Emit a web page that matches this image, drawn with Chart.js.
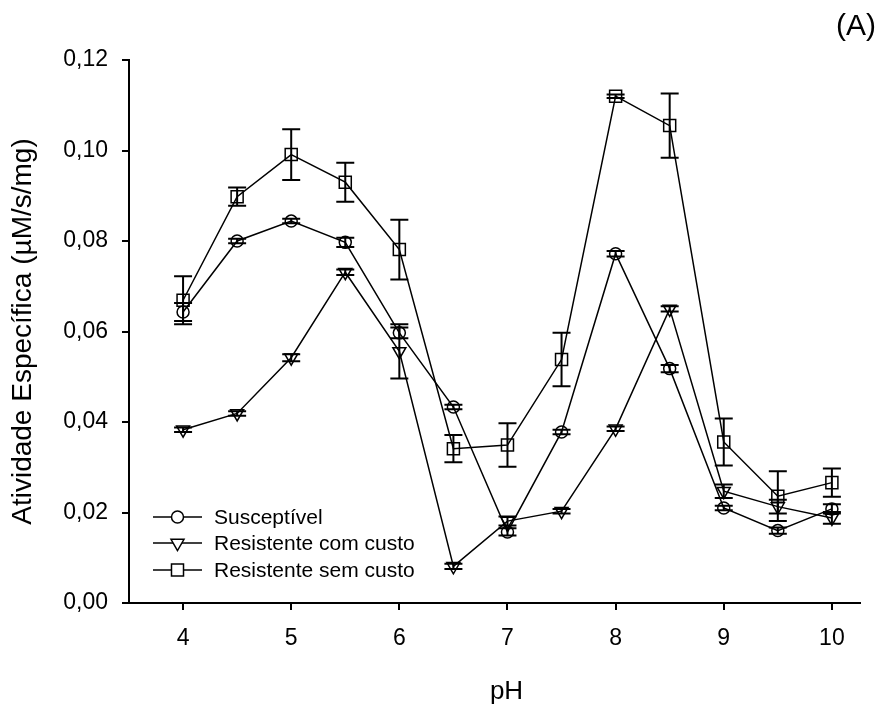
<!DOCTYPE html>
<html>
<head>
<meta charset="utf-8">
<script src="https://cdn.jsdelivr.net/npm/chart.js@4/dist/chart.umd.min.js"></script>
<style>
  html, body { margin: 0; padding: 0; background: #fff; }
  #wrap { width: 884px; height: 709px; }
</style>
</head>
<body>
<div id="wrap"><canvas id="c" width="884" height="709"></canvas></div>
<script>
// ---- data ----
const phValues = [4, 4.5, 5, 5.5, 6, 6.5, 7, 7.5, 8, 8.5, 9, 9.5, 10];
const xTickValues = [4, 5, 6, 7, 8, 9, 10];
const yTickValues = [0, 0.02, 0.04, 0.06, 0.08, 0.10, 0.12];

const susceptivel    = [0.0643, 0.0800, 0.0844, 0.0797, 0.0597, 0.0433, 0.0157, 0.0378, 0.0772, 0.0518, 0.0210, 0.0160, 0.0208];
const susceptivelErr = [0.0020, 0.0005, 0.0005, 0.0010, 0.0012, 0.0005, 0.0008, 0.0005, 0.0006, 0.0008, 0.0005, 0.0007, 0.0010];

const comCusto    = [0.0383, 0.0419, 0.0542, 0.0731, 0.0556, 0.0081, 0.0181, 0.0203, 0.0385, 0.0650, 0.0247, 0.0213, 0.0188];
const comCustoErr = [0.0005, 0.0005, 0.0008, 0.0006, 0.0060, 0.0006, 0.0010, 0.0005, 0.0005, 0.0006, 0.0015, 0.0015, 0.0013];

const semCusto    = [0.0669, 0.0898, 0.0991, 0.0930, 0.0781, 0.0341, 0.0349, 0.0538, 0.1120, 0.1055, 0.0356, 0.0236, 0.0266];
const semCustoErr = [0.0053, 0.0020, 0.0056, 0.0043, 0.0066, 0.0030, 0.0048, 0.0059, 0.0004, 0.0071, 0.0052, 0.0055, 0.0031];

const seriesNames = ['Susceptível', 'Resistente com custo', 'Resistente sem custo'];
const panelLabel = '(A)';
const xTitle = 'pH';
const yTitle = 'Atividade Específica (µM/s/mg)';

// ---- chart ----
const FONT = '"Liberation Sans", Arial, Helvetica, sans-serif';
const toPts = (vals) => vals.map((v, i) => ({ x: phValues[i], y: v }));

const errorArrays = [susceptivelErr, comCustoErr, semCustoErr];

const errorBarPlugin = {
  id: 'errorBars',
  afterDatasetsDraw(chart) {
    const ctx = chart.ctx;
    const xs = chart.scales.x, ys = chart.scales.y;
    ctx.save();
    ctx.strokeStyle = '#000';
    ctx.lineWidth = 2;
    chart.data.datasets.forEach((ds, di) => {
      const errs = errorArrays[di];
      ds.data.forEach((p, i) => {
        const e = errs[i];
        const px = xs.getPixelForValue(p.x);
        const yTop = ys.getPixelForValue(p.y + e);
        const yBot = ys.getPixelForValue(p.y - e);
        const cap = 9;
        ctx.beginPath();
        ctx.moveTo(px, yTop); ctx.lineTo(px, yBot);
        ctx.moveTo(px - cap, yTop); ctx.lineTo(px + cap, yTop);
        ctx.moveTo(px - cap, yBot); ctx.lineTo(px + cap, yBot);
        ctx.stroke();
      });
    });
    ctx.restore();
  }
};

const legendPlugin = {
  id: 'insideLegend',
  afterDraw(chart) {
    const ctx = chart.ctx;
    const area = chart.chartArea;
    const x0 = area.left + 24, x1 = area.left + 73, xm = (x0 + x1) / 2;
    const rows = [area.bottom - 86, area.bottom - 60, area.bottom - 33];
    ctx.save();
    chart.data.datasets.forEach((ds, i) => {
      const y = rows[i];
      ctx.strokeStyle = '#000';
      ctx.lineWidth = 1.5;
      ctx.beginPath(); ctx.moveTo(x0, y); ctx.lineTo(x1, y); ctx.stroke();
      ctx.fillStyle = '#fff';
      ctx.strokeStyle = '#000';
      Chart.helpers.drawPoint(ctx, {
        pointStyle: ds.pointStyle, rotation: ds.pointRotation || 0,
        radius: ds.pointRadius, borderWidth: 1.5
      }, xm, y);
      ctx.fillStyle = '#000';
      ctx.font = '21px ' + FONT;
      ctx.textAlign = 'left';
      ctx.textBaseline = 'middle';
      ctx.fillText(seriesNames[i], area.left + 85, y + 1);
    });
    // panel label
    ctx.font = '30px ' + FONT;
    ctx.textAlign = 'right';
    ctx.textBaseline = 'alphabetic';
    ctx.fillStyle = '#000';
    ctx.fillText(panelLabel, 876, 35);
    // x axis title
    ctx.font = '26px ' + FONT;
    ctx.textAlign = 'center';
    ctx.textBaseline = 'alphabetic';
    ctx.fillText(xTitle, (area.left + area.right) / 2 + 12, 699);
    ctx.restore();
  }
};

const commonDs = {
  borderColor: '#000',
  borderWidth: 1.5,
  backgroundColor: 'rgba(0,0,0,0)',
  pointBackgroundColor: 'rgba(0,0,0,0)',
  pointBorderColor: '#000',
  pointBorderWidth: 1.5,
  showLine: true,
  tension: 0,
  fill: false
};

new Chart(document.getElementById('c'), {
  type: 'scatter',
  data: {
    datasets: [
      Object.assign({}, commonDs, { label: seriesNames[0], data: toPts(susceptivel), pointStyle: 'circle', pointRadius: 6 }),
      Object.assign({}, commonDs, { label: seriesNames[1], data: toPts(comCusto), pointStyle: 'triangle', pointRotation: 180, rotation: 180, pointRadius: 7.5 }),
      Object.assign({}, commonDs, { label: seriesNames[2], data: toPts(semCusto), pointStyle: 'rect', pointRadius: 8.5 })
    ]
  },
  options: {
    responsive: false,
    animation: false,
    events: [],
    layout: { padding: { left: 0, right: 24, top: 60, bottom: 0 } },
    plugins: { legend: { display: false }, tooltip: { enabled: false }, title: { display: false } },
    scales: {
      x: {
        type: 'linear',
        min: 3.5, max: 10.26,
        afterBuildTicks: (s) => { s.ticks = xTickValues.map(v => ({ value: v })); },
        afterFit: (s) => { s.height = 106; },
        border: { display: true, color: '#000', width: 2 },
        grid: { display: true, drawOnChartArea: false, drawTicks: true, tickLength: 7, color: '#000', lineWidth: 2 },
        ticks: { color: '#000', font: { family: FONT, size: 23 }, padding: 15, maxRotation: 0, callback: (v) => String(v) },
        title: { display: false }
      },
      y: {
        type: 'linear',
        min: 0, max: 0.12,
        afterBuildTicks: (s) => { s.ticks = yTickValues.map(v => ({ value: v })); },
        afterFit: (s) => { s.width = 129; },
        border: { display: true, color: '#000', width: 2 },
        grid: { display: true, drawOnChartArea: false, drawTicks: true, tickLength: 7, color: '#000', lineWidth: 2 },
        ticks: { color: '#000', font: { family: FONT, size: 23 }, padding: 14, callback: (v) => Number(v).toFixed(2).replace('.', ',') },
        title: { display: true, text: yTitle, color: '#000', font: { family: FONT, size: 28 }, padding: { top: 6, bottom: 0 } }
      }
    }
  },
  plugins: [errorBarPlugin, legendPlugin]
});
</script>
</body>
</html>
